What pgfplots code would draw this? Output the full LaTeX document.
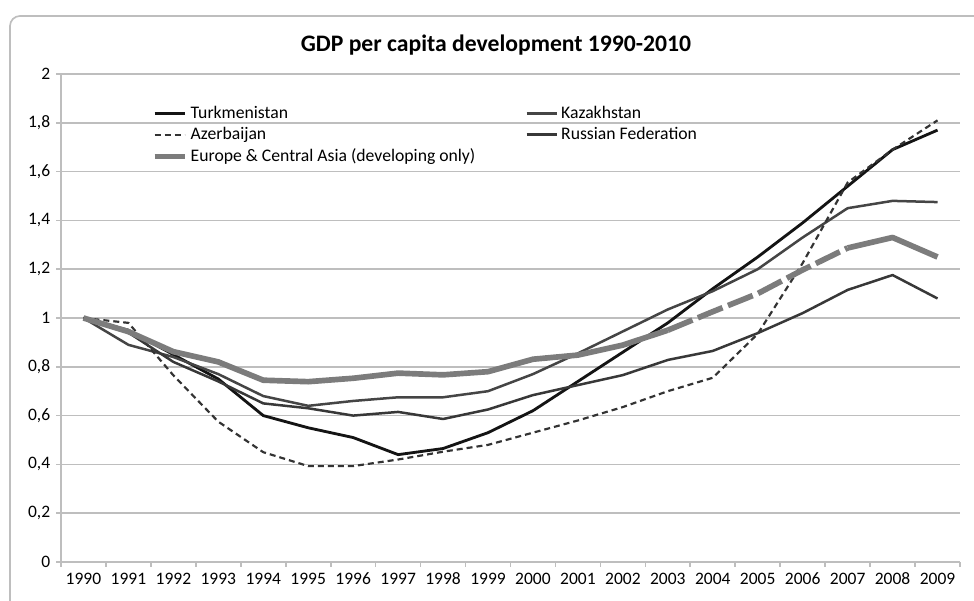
\documentclass[border=0pt]{standalone}
\usepackage{fontspec}
\setmainfont{Carlito}
\usepackage{pgfplots}
\pgfplotsset{compat=1.18}
\definecolor{gridc}{HTML}{BEBEBE}
\definecolor{turk}{HTML}{141414}
\definecolor{kaz}{HTML}{454545}
\definecolor{aze}{HTML}{333333}
\definecolor{rus}{HTML}{383838}
\definecolor{eca}{HTML}{7C7C7C}
\begin{document}
\begin{tikzpicture}
\useasboundingbox (0,0) rectangle (584.4pt,360.6pt);
\draw[gridc, line width=1pt, rounded corners=6pt] (6pt,-12pt) rectangle (594pt,351pt);
\node[font=\fontsize{14.2}{16}\selectfont\bfseries] at (297.6pt,333.6pt) {GDP per capita development 1990-2010};
\begin{axis}[
  at={(36.6pt,23.4pt)}, anchor=south west,
  width=539.4pt, height=292.8pt, scale only axis,
  xmin=1989.5, xmax=2009.5, ymin=0, ymax=2,
  xtick={1990,1991,1992,1993,1994,1995,1996,1997,1998,1999,2000,2001,2002,2003,2004,2005,2006,2007,2008,2009},
  minor xtick={1989.5,1990.5,1991.5,1992.5,1993.5,1994.5,1995.5,1996.5,1997.5,1998.5,1999.5,2000.5,2001.5,2002.5,2003.5,2004.5,2005.5,2006.5,2007.5,2008.5,2009.5},
  ytick={0,0.2,0.4,0.6,0.8,1,1.2,1.4,1.6,1.8,2},
  axis x line*=bottom, axis y line*=left,
  axis line style={gridc, line width=1pt, -},
  tick align=outside,
  major tick length=3pt, minor tick length=3pt,
  major x tick style={draw=none},
  minor x tick style={gridc, line width=1pt},
  ytick style={gridc, line width=1pt},
  ymajorgrids, major grid style={gridc, line width=1pt},
  /pgf/number format/assume math mode=true,
  tick label style={font=\fontsize{10.5}{12}\selectfont, text=black},
  xticklabel style={/pgf/number format/1000 sep={}},
  yticklabel style={/pgf/number format/.cd, fixed, use comma, precision=1},
  legend columns=2,
  legend cell align=left,
  legend style={at={(0.095,0.949)}, anchor=north west, draw=none, fill=none,
    font=\fontsize{10.6}{12}\selectfont,
    /tikz/every even column/.append style={column sep=28pt}},
  legend image code/.code={\draw[#1] (0pt,0pt) -- (18pt,0pt);},
  every axis plot/.append style={line join=round},
]
\addplot[turk, line width=1.7pt] coordinates {
(1990,1.00) (1991,0.95) (1992,0.85) (1993,0.75) (1994,0.60) (1995,0.55) (1996,0.51) (1997,0.44) (1998,0.465) (1999,0.53)
(2000,0.62) (2001,0.74) (2002,0.86) (2003,0.98) (2004,1.12) (2005,1.25) (2006,1.39) (2007,1.54) (2008,1.69) (2009,1.77)};
\addlegendentry{Turkmenistan}
\addplot[kaz, line width=1.5pt] coordinates {
(1990,1.00) (1991,0.89) (1992,0.84) (1993,0.77) (1994,0.68) (1995,0.64) (1996,0.66) (1997,0.675) (1998,0.675) (1999,0.70)
(2000,0.77) (2001,0.855) (2002,0.945) (2003,1.035) (2004,1.11) (2005,1.20) (2006,1.33) (2007,1.45) (2008,1.48) (2009,1.475)};
\addlegendentry{Kazakhstan}
\addplot[aze, line width=1.3pt, dash pattern=on 3.6pt off 2.4pt] coordinates {
(1990,1.00) (1991,0.98) (1992,0.765) (1993,0.575) (1994,0.45) (1995,0.393) (1996,0.393) (1997,0.42) (1998,0.452) (1999,0.48)
(2000,0.53) (2001,0.58) (2002,0.635) (2003,0.70) (2004,0.755) (2005,0.935) (2006,1.225) (2007,1.555) (2008,1.69) (2009,1.81)};
\addlegendentry{Azerbaijan}
\addplot[rus, line width=1.5pt] coordinates {
(1990,1.00) (1991,0.94) (1992,0.82) (1993,0.74) (1994,0.65) (1995,0.63) (1996,0.60) (1997,0.615) (1998,0.586) (1999,0.625)
(2000,0.684) (2001,0.725) (2002,0.766) (2003,0.828) (2004,0.865) (2005,0.938) (2006,1.02) (2007,1.115) (2008,1.176) (2009,1.08)};
\addlegendentry{Russian Federation}
\addplot[eca, line width=3.4pt] coordinates {
(1990,1.00) (1991,0.944) (1992,0.862) (1993,0.82) (1994,0.745) (1995,0.739) (1996,0.753) (1997,0.774) (1998,0.767) (1999,0.78)
(2000,0.831) (2001,0.848) (2002,0.889) (2003,0.95)};
\addlegendentry{Europe \& Central Asia (developing only)}
\addplot[eca, line width=3.4pt, dash pattern=on 16pt off 3.5pt, forget plot] coordinates {
(2003,0.95) (2004,1.026) (2005,1.10) (2006,1.197) (2007,1.287)};
\addplot[eca, line width=3.4pt, forget plot] coordinates {
(2007,1.287) (2008,1.33) (2009,1.25)};
\end{axis}
\end{tikzpicture}
\end{document}
